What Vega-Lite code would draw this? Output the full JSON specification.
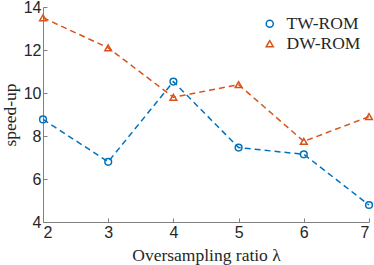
{
  "$schema": "https://vega.github.io/schema/vega-lite/v6.json",
  "width": 326,
  "height": 215,
  "autosize": {"type": "none"},
  "padding": {"left": 43, "top": 7, "right": 5, "bottom": 43},
  "background": "white",
  "config": {
    "view": {"stroke": null},
    "axis": {
      "grid": false,
      "domainColor": "#808080",
      "tickColor": "#808080",
      "tickSize": -4,
      "labelFont": "Liberation Sans",
      "labelFontSize": 16,
      "labelColor": "#262626",
      "titleFont": "Liberation Serif",
      "titleFontSize": 17.5,
      "titleFontWeight": "normal",
      "titleColor": "#262626"
    },
    "legend": {
      "labelFont": "Liberation Serif",
      "labelFontSize": 17.5,
      "labelColor": "#262626"
    }
  },
  "data": {
    "values": [
      {"lambda": 2, "speedup": 8.77, "method": "TW-ROM"},
      {"lambda": 3, "speedup": 6.8, "method": "TW-ROM"},
      {"lambda": 4, "speedup": 10.53, "method": "TW-ROM"},
      {"lambda": 5, "speedup": 7.46, "method": "TW-ROM"},
      {"lambda": 6, "speedup": 7.15, "method": "TW-ROM"},
      {"lambda": 7, "speedup": 4.79, "method": "TW-ROM"},
      {"lambda": 2, "speedup": 13.5, "method": "DW-ROM"},
      {"lambda": 3, "speedup": 12.1, "method": "DW-ROM"},
      {"lambda": 4, "speedup": 9.8, "method": "DW-ROM"},
      {"lambda": 5, "speedup": 10.39, "method": "DW-ROM"},
      {"lambda": 6, "speedup": 7.75, "method": "DW-ROM"},
      {"lambda": 7, "speedup": 8.9, "method": "DW-ROM"}
    ]
  },
  "encoding": {
    "x": {
      "field": "lambda", "type": "quantitative",
      "scale": {"domain": [2, 7], "nice": false},
      "axis": {"values": [2, 3, 4, 5, 6, 7], "title": "Oversampling ratio λ", "labelPadding": 6, "titlePadding": 6}
    },
    "y": {
      "field": "speedup", "type": "quantitative",
      "scale": {"domain": [4, 14], "nice": false},
      "axis": {"values": [4, 6, 8, 10, 12, 14], "title": "speed-up", "labelPadding": 6, "titlePadding": 4}
    },
    "color": {
      "field": "method", "type": "nominal",
      "scale": {"domain": ["TW-ROM", "DW-ROM"], "range": ["#0072BD", "#D95319"]},
      "legend": {
        "title": null,
        "orient": "none",
        "legendX": 218,
        "legendY": 8,
        "symbolStrokeWidth": 1.5,
        "symbolSize": 50,
        "symbolFillColor": "transparent",
        "rowPadding": 1,
        "labelOffset": 8,
        "encode": {
          "symbols": {
            "update": {
              "shape": [
                {"test": "datum.value === 'TW-ROM'", "value": "M-1.9,0L1.2,0M1.2,0A0.85,0.85 0 1 1 -0.5,0A0.85,0.85 0 1 1 1.2,0"},
                {"value": "M-1.9,0.3L-0.6,0.3M0.35,-0.75L1.3,0.7L-0.6,0.7Z"}
              ]
            }
          }
        }
      }
    }
  },
  "layer": [
    {
      "mark": {"type": "line", "strokeDash": [6, 4], "strokeWidth": 1.5},
      "encoding": {"detail": {"field": "method"}}
    },
    {
      "mark": {"type": "point", "filled": false, "strokeWidth": 1.5, "size": 45, "opacity": 1},
      "encoding": {
        "shape": {
          "field": "method", "type": "nominal",
          "scale": {"domain": ["TW-ROM", "DW-ROM"], "range": ["circle", "triangle-up"]},
          "legend": null
        }
      }
    }
  ]
}
